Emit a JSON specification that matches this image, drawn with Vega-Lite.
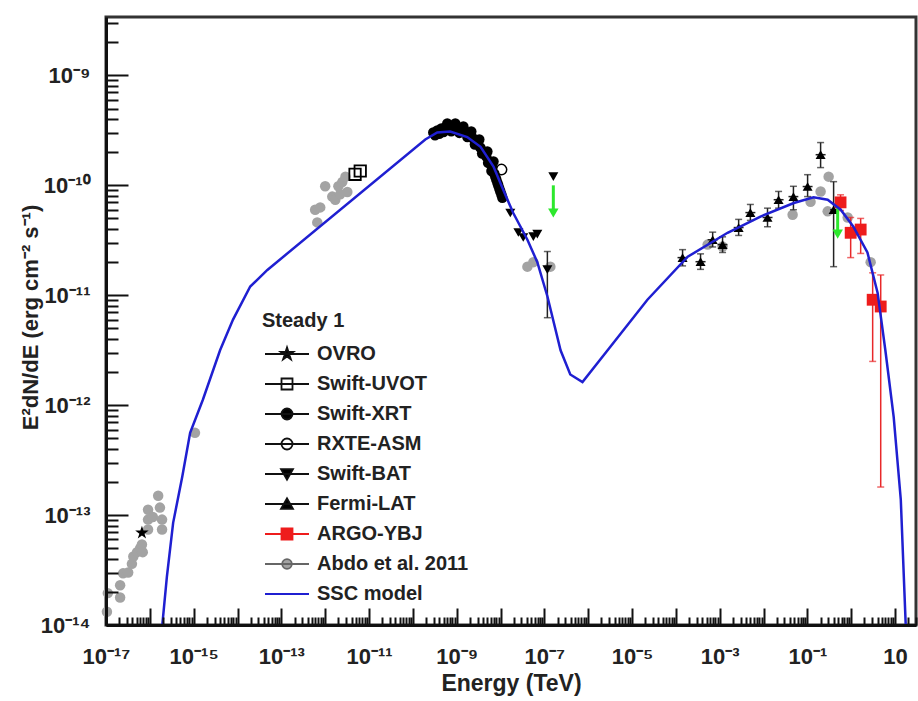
{
  "$schema": "https://vega.github.io/schema/vega-lite/v6.json",
  "width": 810,
  "height": 608,
  "autosize": {"type": "none"},
  "padding": {"left": 106, "top": 17, "right": 2, "bottom": 76},
  "background": "white",
  "config": {"font": "Liberation Sans", "view": {"stroke": "#333", "strokeWidth": 3}},
  "datasets": {
    "model": [
      {"E": 1.62e-16, "F": 5e-15}, {"E": 1.9e-16, "F": 9.5e-15}, {"E": 2.45e-16, "F": 2.75e-14},
      {"E": 3.4e-16, "F": 8.5e-14}, {"E": 5.5e-16, "F": 2.24e-13}, {"E": 8.3e-16, "F": 5.6e-13},
      {"E": 1.62e-15, "F": 1.12e-12}, {"E": 4.0e-15, "F": 3.16e-12}, {"E": 7.9e-15, "F": 6.0e-12},
      {"E": 1.95e-14, "F": 1.2e-11}, {"E": 4.8e-14, "F": 1.7e-11}, {"E": 1.92e-10, "F": 2.61e-10},
      {"E": 3.6e-10, "F": 3.03e-10}, {"E": 7.1e-10, "F": 3.09e-10}, {"E": 1.74e-9, "F": 2.75e-10},
      {"E": 3.5e-9, "F": 2.24e-10}, {"E": 6.9e-9, "F": 1.48e-10}, {"E": 1.15e-8, "F": 9.1e-11},
      {"E": 1.95e-8, "F": 5.6e-11}, {"E": 4.1e-8, "F": 3.2e-11}, {"E": 6.9e-8, "F": 2.0e-11},
      {"E": 1.17e-7, "F": 9.8e-12}, {"E": 2.34e-7, "F": 3.16e-12}, {"E": 3.9e-7, "F": 1.9e-12},
      {"E": 7.4e-7, "F": 1.62e-12}, {"E": 3.2e-6, "F": 3.4e-12}, {"E": 2.24e-5, "F": 9.1e-12},
      {"E": 1.86e-4, "F": 2.24e-11}, {"E": 1.51e-3, "F": 3.7e-11}, {"E": 8.5e-3, "F": 5.2e-11},
      {"E": 0.049, "F": 6.9e-11}, {"E": 0.138, "F": 7.8e-11}, {"E": 0.29, "F": 7.4e-11},
      {"E": 0.575, "F": 6.0e-11}, {"E": 1.12, "F": 4.2e-11}, {"E": 2.34, "F": 2.45e-11},
      {"E": 4.0, "F": 1.05e-11}, {"E": 6.0, "F": 3.16e-12}, {"E": 9.3, "F": 7.8e-13},
      {"E": 13.5, "F": 1.38e-13}, {"E": 17.4, "F": 1.05e-14}, {"E": 18.6, "F": 5e-15}
    ],
    "abdo": [
      {"E": 1.05e-17, "F": 1.32e-14}, {"E": 1.1e-17, "F": 1.95e-14}, {"E": 2.1e-17, "F": 1.78e-14},
      {"E": 2.1e-17, "F": 2.3e-14}, {"E": 2.45e-17, "F": 2.95e-14}, {"E": 3.2e-17, "F": 3.0e-14},
      {"E": 3.9e-17, "F": 3.6e-14}, {"E": 4.2e-17, "F": 4.2e-14}, {"E": 5.1e-17, "F": 4.6e-14},
      {"E": 6.0e-17, "F": 5.0e-14}, {"E": 6.6e-17, "F": 5.4e-14}, {"E": 6.9e-17, "F": 4.6e-14},
      {"E": 9.1e-17, "F": 7.4e-14}, {"E": 9.1e-17, "F": 9.1e-14}, {"E": 9.1e-17, "F": 1.12e-13},
      {"E": 1.17e-16, "F": 9.6e-14}, {"E": 1.55e-16, "F": 1.5e-13}, {"E": 1.7e-16, "F": 1.17e-13},
      {"E": 1.9e-16, "F": 9.1e-14}, {"E": 1.9e-16, "F": 7.4e-14}, {"E": 1.07e-15, "F": 5.6e-13},
      {"E": 6.6e-13, "F": 4.6e-11}, {"E": 5.9e-13, "F": 6.0e-11}, {"E": 7.7e-13, "F": 6.3e-11},
      {"E": 1.0e-12, "F": 9.8e-11}, {"E": 1.45e-12, "F": 7.9e-11}, {"E": 1.7e-12, "F": 7.4e-11},
      {"E": 2.0e-12, "F": 9.8e-11}, {"E": 2.45e-12, "F": 1.07e-10}, {"E": 2.9e-12, "F": 1.2e-10},
      {"E": 3.2e-12, "F": 8.7e-11}, {"E": 2.2e-12, "F": 8.3e-11},
      {"E": 4.1e-8, "F": 1.82e-11}, {"E": 5.6e-8, "F": 2.0e-11}, {"E": 1.37e-7, "F": 1.82e-11},
      {"E": 5.3e-4, "F": 2.89e-11}, {"E": 1.16e-3, "F": 2.77e-11}, {"E": 4.6e-2, "F": 5.4e-11},
      {"E": 0.305, "F": 1.2e-10}, {"E": 0.2, "F": 8.8e-11}, {"E": 0.118, "F": 7.1e-11},
      {"E": 0.29, "F": 5.8e-11}, {"E": 0.83, "F": 5.1e-11}, {"E": 2.77, "F": 2.0e-11}
    ],
    "xrt": [
      {"E": 2.92e-10, "F": 3.03e-10}, {"E": 3.6e-10, "F": 3.15e-10}, {"E": 4.45e-10, "F": 3.29e-10},
      {"E": 5.5e-10, "F": 3.36e-10}, {"E": 6.8e-10, "F": 3.43e-10}, {"E": 8.4e-10, "F": 3.43e-10},
      {"E": 1.03e-9, "F": 3.36e-10}, {"E": 1.27e-9, "F": 3.22e-10}, {"E": 1.57e-9, "F": 3.09e-10},
      {"E": 1.94e-9, "F": 2.9e-10}, {"E": 2.39e-9, "F": 2.67e-10}, {"E": 2.95e-9, "F": 2.45e-10},
      {"E": 3.46e-9, "F": 2.21e-10}, {"E": 4.05e-9, "F": 2.03e-10}, {"E": 4.74e-9, "F": 1.83e-10},
      {"E": 5.5e-9, "F": 1.65e-10}, {"E": 6.5e-9, "F": 1.45e-10}, {"E": 7.2e-9, "F": 1.28e-10},
      {"E": 8.0e-9, "F": 1.13e-10}, {"E": 8.9e-9, "F": 9.95e-11}, {"E": 9.9e-9, "F": 8.8e-11},
      {"E": 1.1e-8, "F": 7.7e-11}, {"E": 6.1e-10, "F": 3.66e-10}, {"E": 9.3e-10, "F": 3.66e-10},
      {"E": 1.42e-9, "F": 3.43e-10}, {"E": 2.15e-9, "F": 3.09e-10}, {"E": 3.28e-9, "F": 2.61e-10},
      {"E": 5.0e-9, "F": 2.03e-10}, {"E": 6.9e-9, "F": 1.65e-10},
      {"E": 3.2e-10, "F": 2.85e-10}, {"E": 4.0e-10, "F": 2.95e-10}, {"E": 5.0e-10, "F": 3.05e-10},
      {"E": 7.5e-10, "F": 3.1e-10}, {"E": 1.15e-9, "F": 3.0e-10}, {"E": 1.75e-9, "F": 2.75e-10},
      {"E": 2.6e-9, "F": 2.35e-10}, {"E": 3.8e-9, "F": 1.95e-10}, {"E": 5.2e-9, "F": 1.6e-10},
      {"E": 6.2e-9, "F": 1.35e-10}, {"E": 7.6e-9, "F": 1.2e-10}, {"E": 8.5e-9, "F": 1.05e-10},
      {"E": 9.4e-9, "F": 9.3e-11}, {"E": 1.05e-8, "F": 8.2e-11}
    ],
    "uvot": [{"E": 4.8e-12, "F": 1.26e-10}, {"E": 6.3e-12, "F": 1.35e-10}],
    "rxte": [{"E": 1.05e-8, "F": 1.39e-10}],
    "ovro": [{"E": 6.6e-17, "F": 6.9e-14}],
    "bat": [
      {"E": 1.67e-8, "F": 5.6e-11}, {"E": 2.55e-8, "F": 3.72e-11}, {"E": 3.3e-8, "F": 3.35e-11},
      {"E": 5.6e-8, "F": 3.42e-11}, {"E": 6.9e-8, "F": 3.6e-11},
      {"E": 1.17e-7, "F": 1.71e-11, "Flo": 6.25e-12, "Fhi": 2.5e-11},
      {"E": 1.6e-7, "F": 1.2e-10}
    ],
    "fermi": [
      {"E": 1.42e-4, "F": 2.2e-11, "Flo": 1.85e-11, "Fhi": 2.6e-11, "Elo": 1.09e-4, "Ehi": 1.85e-4},
      {"E": 3.65e-4, "F": 2.02e-11, "Flo": 1.72e-11, "Fhi": 2.38e-11, "Elo": 2.8e-4, "Ehi": 4.75e-4},
      {"E": 6.9e-4, "F": 3.2e-11, "Flo": 2.75e-11, "Fhi": 3.75e-11, "Elo": 5.3e-4, "Ehi": 9.0e-4},
      {"E": 1.16e-3, "F": 2.89e-11, "Flo": 2.45e-11, "Fhi": 3.4e-11, "Elo": 8.9e-4, "Ehi": 1.5e-3},
      {"E": 2.7e-3, "F": 4.13e-11, "Flo": 3.5e-11, "Fhi": 4.9e-11, "Elo": 2.08e-3, "Ehi": 3.5e-3},
      {"E": 5.0e-3, "F": 5.65e-11, "Flo": 4.8e-11, "Fhi": 6.7e-11, "Elo": 3.85e-3, "Ehi": 6.5e-3},
      {"E": 1.23e-2, "F": 5.1e-11, "Flo": 4.2e-11, "Fhi": 6.2e-11, "Elo": 9.5e-3, "Ehi": 1.6e-2},
      {"E": 2.2e-2, "F": 7.4e-11, "Flo": 6.2e-11, "Fhi": 8.8e-11, "Elo": 1.7e-2, "Ehi": 2.86e-2},
      {"E": 4.8e-2, "F": 7.9e-11, "Flo": 6.0e-11, "Fhi": 9.8e-11, "Elo": 3.7e-2, "Ehi": 6.2e-2},
      {"E": 0.101, "F": 9.75e-11, "Flo": 7.9e-11, "Fhi": 1.25e-10, "Elo": 0.078, "Ehi": 0.131},
      {"E": 0.2, "F": 1.9e-10, "Flo": 1.45e-10, "Fhi": 2.45e-10, "Elo": 0.154, "Ehi": 0.26},
      {"E": 0.396, "F": 6.0e-11, "Flo": 1.82e-11, "Fhi": 1.08e-10, "Elo": 0.33, "Ehi": 0.47}
    ],
    "argo": [
      {"E": 0.57, "F": 7.0e-11, "Flo": 5.9e-11, "Fhi": 8.2e-11},
      {"E": 0.97, "F": 3.7e-11, "Flo": 2.2e-11, "Fhi": 5.1e-11},
      {"E": 1.64, "F": 3.96e-11, "Flo": 2.4e-11, "Fhi": 5.0e-11},
      {"E": 3.08, "F": 9.1e-12, "Flo": 2.5e-12, "Fhi": 1.6e-11},
      {"E": 4.7, "F": 7.9e-12, "Flo": 1.8e-13, "Fhi": 1.53e-11}
    ],
    "ul": [
      {"E": 1.6e-7, "Ftop": 1.0e-10, "Ftip": 5.6e-11},
      {"E": 0.49, "Ftop": 6.3e-11, "Ftip": 3.6e-11}
    ]
  },
  "encoding": {
    "x": {
      "field": "E", "type": "quantitative",
      "scale": {"type": "log", "domain": [1e-17, 30], "nice": false},
      "axis": {
        "zindex": 1,
        "title": "Energy (TeV)", "titleFont": "Liberation Sans", "titleFontSize": 23, "titleFontWeight": "bold", "titleColor": "#222",
        "titleY": 65, "titleBaseline": "alphabetic",
        "values": [1e-17,2e-17,3e-17,4e-17,5e-17,6e-17,7e-17,8e-17,9e-17,1e-16,2e-16,3e-16,4e-16,5e-16,6e-16,7e-16,8e-16,9e-16,1e-15,2e-15,3e-15,4e-15,5e-15,6e-15,7e-15,8e-15,9e-15,1e-14,2e-14,3e-14,4e-14,5e-14,6e-14,7e-14,8e-14,9e-14,1e-13,2e-13,3e-13,4e-13,5e-13,6e-13,7e-13,8e-13,9e-13,1e-12,2e-12,3e-12,4e-12,5e-12,6e-12,7e-12,8e-12,9e-12,1e-11,2e-11,3e-11,4e-11,5e-11,6e-11,7e-11,8e-11,9e-11,1e-10,2e-10,3e-10,4e-10,5e-10,6e-10,7e-10,8e-10,9e-10,1e-9,2e-9,3e-9,4e-9,5e-9,6e-9,7e-9,8e-9,9e-9,1e-8,2e-8,3e-8,4e-8,5e-8,6e-8,7e-8,8e-8,9e-8,1e-7,2e-7,3e-7,4e-7,5e-7,6e-7,7e-7,8e-7,9e-7,1e-6,2e-6,3e-6,4e-6,5e-6,6e-6,7e-6,8e-6,9e-6,1e-5,2e-5,3e-5,4e-5,5e-5,6e-5,7e-5,8e-5,9e-5,1e-4,2e-4,3e-4,4e-4,5e-4,6e-4,7e-4,8e-4,9e-4,1e-3,2e-3,3e-3,4e-3,5e-3,6e-3,7e-3,8e-3,9e-3,1e-2,2e-2,3e-2,4e-2,5e-2,6e-2,7e-2,8e-2,9e-2,0.1,0.2,0.3,0.4,0.5,0.6,0.7,0.8,0.9,1,2,3,4,5,6,7,8,9,10,20,30],
        "labelExpr": "abs(log(datum.value)/LN10 - round(log(datum.value)/LN10)) < 0.001 ? ['10⁻¹⁷','','10⁻¹⁵','','10⁻¹³','','10⁻¹¹','','10⁻⁹','','10⁻⁷','','10⁻⁵','','10⁻³','','10⁻¹','','10'][round(log(datum.value)/LN10) + 17] : ''",
        "labelOverlap": false, "labelFlush": false, "labelBound": false,
        "labelFont": "Liberation Sans", "labelFontSize": 22, "labelFontWeight": "bold", "labelColor": "#222",
        "labelPadding": 38, "labelBaseline": "top",
        "tickColor": "#111", "tickWidth": 2,
        "tickSize": {"condition": {"test": "abs(log(datum.value)/LN10 - round(log(datum.value)/LN10)) < 0.001", "value": -17}, "value": -8},
        "domainColor": "#111", "domainWidth": 3, "grid": false
      }
    },
    "y": {
      "field": "F", "type": "quantitative",
      "scale": {"type": "log", "domain": [1e-14, 3.4e-9], "nice": false},
      "axis": {
        "zindex": 1,
        "title": "E²dN/dE (erg cm⁻² s⁻¹)", "titleFont": "Liberation Sans", "titleFontSize": 22, "titleFontWeight": "bold", "titleColor": "#222",
        "titleX": -76, "titleY": 300, "titleAngle": -90, "titleAlign": "center", "titleBaseline": "middle",
        "values": [1e-14,2e-14,3e-14,4e-14,5e-14,6e-14,7e-14,8e-14,9e-14,1e-13,2e-13,3e-13,4e-13,5e-13,6e-13,7e-13,8e-13,9e-13,1e-12,2e-12,3e-12,4e-12,5e-12,6e-12,7e-12,8e-12,9e-12,1e-11,2e-11,3e-11,4e-11,5e-11,6e-11,7e-11,8e-11,9e-11,1e-10,2e-10,3e-10,4e-10,5e-10,6e-10,7e-10,8e-10,9e-10,1e-9,2e-9,3e-9],
        "labelExpr": "abs(log(datum.value)/LN10 - round(log(datum.value)/LN10)) < 0.001 ? ['10⁻¹⁴','10⁻¹³','10⁻¹²','10⁻¹¹','10⁻¹⁰','10⁻⁹'][round(log(datum.value)/LN10) + 14] : ''",
        "labelOverlap": false, "labelFlush": false, "labelBound": false,
        "labelFont": "Liberation Sans", "labelFontSize": 22, "labelFontWeight": "bold", "labelColor": "#222",
        "labelPadding": 38,
        "tickColor": "#111", "tickWidth": 2,
        "tickSize": {"condition": {"test": "abs(log(datum.value)/LN10 - round(log(datum.value)/LN10)) < 0.001", "value": -22}, "value": -12},
        "domainColor": "#111", "domainWidth": 3, "grid": false
      }
    }
  },
  "layer": [
    {
      "data": {"name": "abdo"},
      "mark": {"type": "point", "shape": "circle", "filled": true, "color": "#a3a3a3", "opacity": 1, "size": 110}
    },
    {
      "data": {"name": "bat"},
      "transform": [{"filter": "isValid(datum.Flo)"}],
      "mark": {"type": "errorbar", "color": "#222", "thickness": 1.5, "ticks": {"size": 7, "thickness": 1.5}},
      "encoding": {
        "y": {"field": "Flo", "type": "quantitative", "scale": {"type": "log", "domain": [1e-14, 3.4e-9], "nice": false}},
        "y2": {"field": "Fhi"}
      }
    },
    {
      "data": {"name": "fermi"},
      "mark": {"type": "errorbar", "color": "#222", "thickness": 1.5, "ticks": {"size": 7, "thickness": 1.5}},
      "encoding": {
        "y": {"field": "Flo", "type": "quantitative", "scale": {"type": "log", "domain": [1e-14, 3.4e-9], "nice": false}},
        "y2": {"field": "Fhi"}
      }
    },
    {
      "data": {"name": "fermi"},
      "mark": {"type": "rule", "color": "#222", "strokeWidth": 1.5},
      "encoding": {
        "x": {"field": "Elo", "type": "quantitative", "scale": {"type": "log", "domain": [1e-17, 30], "nice": false}},
        "x2": {"field": "Ehi"}
      }
    },
    {
      "data": {"name": "argo"},
      "mark": {"type": "errorbar", "color": "#e8282a", "thickness": 1.5, "ticks": {"size": 7, "thickness": 1.5}},
      "encoding": {
        "y": {"field": "Flo", "type": "quantitative", "scale": {"type": "log", "domain": [1e-14, 3.4e-9], "nice": false}},
        "y2": {"field": "Fhi"}
      }
    },
    {
      "data": {"name": "xrt"},
      "mark": {"type": "point", "shape": "circle", "filled": true, "color": "#000", "opacity": 1, "size": 110}
    },
    {
      "data": {"name": "uvot"},
      "mark": {"type": "point", "shape": "square", "filled": false, "color": "#000", "opacity": 1, "size": 130, "strokeWidth": 1.8}
    },
    {
      "data": {"name": "rxte"},
      "mark": {"type": "point", "shape": "circle", "filled": false, "color": "#000", "opacity": 1, "size": 110, "strokeWidth": 1.5}
    },
    {
      "data": {"name": "bat"},
      "mark": {"type": "point", "shape": "triangle-down", "filled": true, "color": "#000", "opacity": 1, "size": 100}
    },
    {
      "data": {"name": "fermi"},
      "mark": {"type": "point", "shape": "triangle-up", "filled": true, "color": "#000", "opacity": 1, "size": 100}
    },
    {
      "data": {"name": "ovro"},
      "mark": {"type": "point", "shape": "M0,-1L0.225,-0.309L0.951,-0.309L0.363,0.118L0.588,0.809L0,0.382L-0.588,0.809L-0.363,0.118L-0.951,-0.309L-0.225,-0.309Z", "filled": true, "color": "#000", "opacity": 1, "size": 200}
    },
    {
      "data": {"name": "argo"},
      "mark": {"type": "point", "shape": "square", "filled": true, "color": "#ee1c1c", "opacity": 1, "size": 140}
    },
    {
      "data": {"name": "ul"},
      "mark": {"type": "rule", "color": "#2de82d", "strokeWidth": 3},
      "encoding": {
        "y": {"field": "Ftop", "type": "quantitative", "scale": {"type": "log", "domain": [1e-14, 3.4e-9], "nice": false}},
        "y2": {"field": "Ftip"}
      }
    },
    {
      "data": {"name": "ul"},
      "mark": {"type": "point", "shape": "triangle-down", "filled": true, "color": "#2de82d", "opacity": 1, "size": 110},
      "encoding": {
        "y": {"field": "Ftip", "type": "quantitative", "scale": {"type": "log", "domain": [1e-14, 3.4e-9], "nice": false}}
      }
    },
    {
      "data": {"name": "model"},
      "mark": {"type": "line", "color": "#1f1fd1", "strokeWidth": 2.5, "clip": true}
    },
    {
      "data": {"name": "ovro"},
      "transform": [{"filter": "false"}],
      "mark": {"type": "point", "opacity": 1},
      "encoding": {
        "shape": {
          "field": "series", "type": "nominal",
          "scale": {
            "domain": ["OVRO", "Swift-UVOT", "Swift-XRT", "RXTE-ASM", "Swift-BAT", "Fermi-LAT", "ARGO-YBJ", "Abdo et al. 2011", "SSC model"],
            "range": [
              "M-2.2,0H2.2M0,-0.66L0.15,-0.2L0.63,-0.2L0.24,0.08L0.39,0.53L0,0.25L-0.39,0.53L-0.24,0.08L-0.63,-0.2L-0.15,-0.2Z",
              "M-2.2,0H2.2M-0.55,-0.55H0.55V0.55H-0.55Z",
              "M-2.2,0H2.2M0.55,0A0.55,0.55,0,1,1,-0.55,0A0.55,0.55,0,1,1,0.55,0Z",
              "M-2.2,0H2.2M0.55,0A0.55,0.55,0,1,1,-0.55,0A0.55,0.55,0,1,1,0.55,0Z",
              "M-2.2,0H2.2M-0.6,-0.48L0.6,-0.48L0,0.56Z",
              "M-2.2,0H2.2M-0.6,0.48L0.6,0.48L0,-0.56Z",
              "M-2.2,0H2.2M-0.55,-0.55H0.55V0.55H-0.55Z",
              "M-2.2,0H2.2M0.48,0A0.48,0.48,0,1,1,-0.48,0A0.48,0.48,0,1,1,0.48,0Z",
              "M-2.2,0H2.2"
            ]
          },
          "legend": {
            "title": "Steady 1", "orient": "none", "legendX": 156, "legendY": 294,
            "titleFont": "Liberation Sans", "titleFontSize": 20, "titleFontWeight": "bold", "titleColor": "#222", "titlePadding": 12,
            "labelFont": "Liberation Sans", "labelFontSize": 20, "labelFontWeight": "bold", "labelColor": "#222",
            "symbolSize": 400, "symbolStrokeWidth": 1.8, "symbolOffset": 14, "rowPadding": 9, "labelOffset": 19, "labelLimit": 300, "padding": 0
          }
        },
        "fill": {
          "field": "series", "type": "nominal",
          "scale": {
            "domain": ["OVRO", "Swift-UVOT", "Swift-XRT", "RXTE-ASM", "Swift-BAT", "Fermi-LAT", "ARGO-YBJ", "Abdo et al. 2011", "SSC model"],
            "range": ["#000", "transparent", "#000", "transparent", "#000", "#000", "#ee1c1c", "#a3a3a3", "transparent"]
          },
          "legend": {"title": "Steady 1"}
        },
        "stroke": {
          "field": "series", "type": "nominal",
          "scale": {
            "domain": ["OVRO", "Swift-UVOT", "Swift-XRT", "RXTE-ASM", "Swift-BAT", "Fermi-LAT", "ARGO-YBJ", "Abdo et al. 2011", "SSC model"],
            "range": ["#111", "#111", "#111", "#111", "#111", "#111", "#ee1c1c", "#666", "#1f1fd1"]
          },
          "legend": {"title": "Steady 1"}
        }
      }
    }
  ]
}
